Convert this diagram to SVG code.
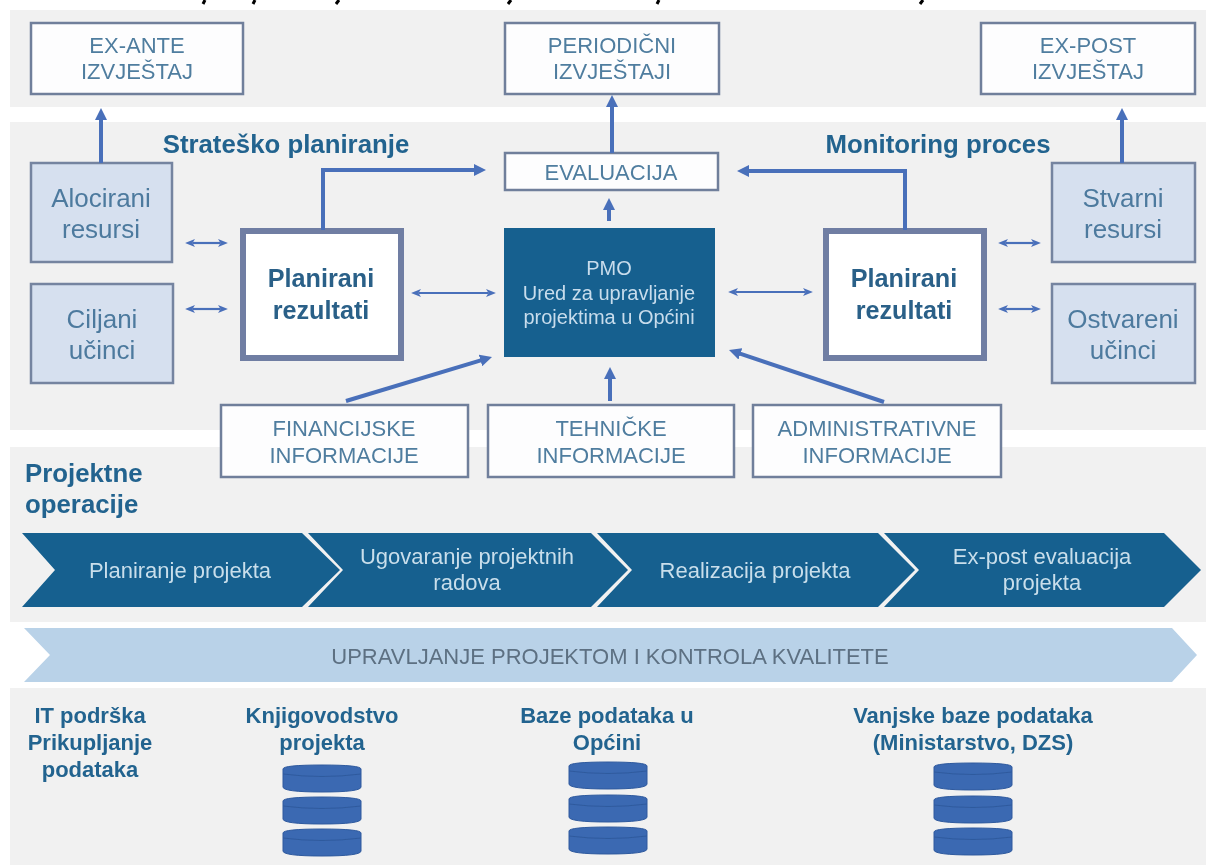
<svg xmlns="http://www.w3.org/2000/svg" width="1206" height="865" viewBox="0 0 1206 865">
<style>
text{font-family:"Liberation Sans",Arial,sans-serif;text-anchor:middle}
.box{fill:#fdfdfe;stroke:#707f9b;stroke-width:2.5}
.res{fill:#d6e0ef;stroke:#7484a0;stroke-width:2.5}
.plan{fill:#fff;stroke:#6f7ea3;stroke-width:6}
.lbl{font-size:22px;fill:#4f7d9f}
.res text{font-size:26px;fill:#4d7a9e}
.head{font-size:25.8px;font-weight:bold;fill:#23648f}
.pl{font-size:25.2px;font-weight:bold;fill:#2a6088}
.pmo{font-size:20px;fill:#c8dcec}
.chev{fill:#14608f}
.ct{font-size:22px;fill:#c9deeb}
.it{font-size:22px;font-weight:bold;fill:#23648f}
.db{fill:#3a69b2;stroke:#2f5a9e;stroke-width:1}
.dbt{fill:none;stroke:#2f5a9e;stroke-width:1}
.thick{fill:none;stroke:#4a6fba;stroke-width:4}
.thin{fill:none;stroke:#4a6fba;stroke-width:2.2}
.desc{fill:none;stroke:#000;stroke-width:3}
</style>
<defs>
<filter id="soft" x="0" y="0" width="100%" height="100%"><feGaussianBlur stdDeviation="0.6"/></filter>
<marker id="a" viewBox="0 0 12 12" refX="2" refY="6" markerWidth="3" markerHeight="3" orient="auto-start-reverse"><path d="M0 0L12 6L0 12z" fill="#4a6fba"/></marker>
<marker id="s" viewBox="0 0 10 8" refX="2.5" refY="4" markerWidth="4.5" markerHeight="3.6" orient="auto-start-reverse"><path d="M0 0L10 4L0 8L2.5 4z" fill="#4a6fba"/></marker>
<g id="dbs"><path class="db" d="M0 4Q0 0 39 0T78 4V22Q78 27 39 27T0 22z"/><path class="dbt" d="M0 9Q39 14 78 9"/></g>
</defs>

<rect width="1206" height="865" fill="#fff"/>
<g filter="url(#soft)">
<g id="bg" fill="#f1f1f1">
<rect x="10" y="10" width="1196" height="97"/>
<rect x="10" y="122" width="1196" height="308"/>
<rect x="10" y="447" width="1196" height="175"/>
<rect x="10" y="688" width="1196" height="177"/>
</g>
<g id="title-stubs">
<path class="desc" d="M205 0L203 4M255 0L253 4M339 0L336 4M511 0L508 4M659 0L657 4M923 0L920 4"/>
</g>

<g id="ex-ante"><rect class="box" x="31" y="23" width="212" height="71"/><text class="lbl" x="137" y="53">EX-ANTE</text><text class="lbl" x="137" y="79">IZVJEŠTAJ</text></g>
<g id="periodicni"><rect class="box" x="505" y="23" width="214" height="71"/><text class="lbl" x="612" y="53">PERIODIČNI</text><text class="lbl" x="612" y="79">IZVJEŠTAJI</text></g>
<g id="ex-post"><rect class="box" x="981" y="23" width="214" height="71"/><text class="lbl" x="1088" y="53">EX-POST</text><text class="lbl" x="1088" y="79">IZVJEŠTAJ</text></g>

<text class="head" x="286" y="153">Strateško planiranje</text>
<text class="head" x="938" y="153">Monitoring proces</text>

<g id="evaluacija"><rect class="box" x="505" y="153" width="213" height="37"/><text class="lbl" x="611" y="180">EVALUACIJA</text></g>

<g id="alocirani" class="res"><rect x="31" y="163" width="141" height="99"/><text x="101" y="207" stroke="none">Alocirani</text><text x="101" y="238" stroke="none">resursi</text></g>
<g id="ciljani" class="res"><rect x="31" y="284" width="142" height="99"/><text x="102" y="328" stroke="none">Ciljani</text><text x="102" y="359" stroke="none">učinci</text></g>
<g id="stvarni" class="res"><rect x="1052" y="163" width="143" height="99"/><text x="1123" y="207" stroke="none">Stvarni</text><text x="1123" y="238" stroke="none">resursi</text></g>
<g id="ostvareni" class="res"><rect x="1052" y="284" width="143" height="99"/><text x="1123" y="328" stroke="none">Ostvareni</text><text x="1123" y="359" stroke="none">učinci</text></g>

<g id="planirani-l"><rect class="plan" x="243" y="231" width="158" height="127"/><text class="pl" x="321" y="287">Planirani</text><text class="pl" x="321" y="319">rezultati</text></g>
<g id="planirani-r"><rect class="plan" x="826" y="231" width="158" height="127"/><text class="pl" x="904" y="287">Planirani</text><text class="pl" x="904" y="319">rezultati</text></g>

<g id="pmo"><rect x="504" y="228" width="211" height="129" fill="#14608f"/><text class="pmo" x="609" y="275">PMO</text><text class="pmo" x="609" y="300">Ured za upravljanje</text><text class="pmo" x="609" y="324">projektima u Općini</text></g>

<g id="financijske"><rect class="box" x="221" y="405" width="247" height="72"/><text class="lbl" x="344" y="436">FINANCIJSKE</text><text class="lbl" x="344" y="463">INFORMACIJE</text></g>
<g id="tehnicke"><rect class="box" x="488" y="405" width="246" height="72"/><text class="lbl" x="611" y="436">TEHNIČKE</text><text class="lbl" x="611" y="463">INFORMACIJE</text></g>
<g id="administrativne"><rect class="box" x="753" y="405" width="248" height="72"/><text class="lbl" x="877" y="436">ADMINISTRATIVNE</text><text class="lbl" x="877" y="463">INFORMACIJE</text></g>

<g id="connectors">
<path class="thick" marker-end="url(#a)" d="M101 163V118"/>
<path class="thick" marker-end="url(#a)" d="M612 153V105"/>
<path class="thick" marker-end="url(#a)" d="M1122 163V118"/>
<path class="thick" marker-end="url(#a)" d="M323 230V170H476"/>
<path class="thick" marker-end="url(#a)" d="M905 230V171H747"/>
<path class="thick" marker-end="url(#a)" d="M609 221V208"/>
<path class="thick" marker-end="url(#a)" d="M610 401V377"/>
<path class="thick" marker-end="url(#a)" d="M346 401L482.4 359.9"/>
<path class="thick" marker-end="url(#a)" d="M884 402L738.5 353.2"/>
<path class="thin" marker-start="url(#s)" marker-end="url(#s)" d="M192.5 243H220.5"/>
<path class="thin" marker-start="url(#s)" marker-end="url(#s)" d="M192.5 309H220.5"/>
<path class="thin" marker-start="url(#s)" marker-end="url(#s)" d="M418.5 293H488.5"/>
<path class="thin" marker-start="url(#s)" marker-end="url(#s)" d="M735.5 292H805.5"/>
<path class="thin" marker-start="url(#s)" marker-end="url(#s)" d="M1005.5 243H1033.5"/>
<path class="thin" marker-start="url(#s)" marker-end="url(#s)" d="M1005.5 309H1033.5"/>
</g>

<text class="head" x="25" y="482" style="text-anchor:start">Projektne</text>
<text class="head" x="25" y="513" style="text-anchor:start">operacije</text>

<g id="chevrons">
<g id="c1"><path class="chev" d="M22 533H302L340 570L302 607H22L55 570z"/><text class="ct" x="180" y="578">Planiranje projekta</text></g>
<g id="c2"><path class="chev" d="M308 533H591L628 570L591 607H308L343 570z"/><text class="ct" x="467" y="564">Ugovaranje projektnih</text><text class="ct" x="467" y="590">radova</text></g>
<g id="c3"><path class="chev" d="M597 533H878L915 570L878 607H597L632 570z"/><text class="ct" x="755" y="578">Realizacija projekta</text></g>
<g id="c4"><path class="chev" d="M884 533H1164L1201 570L1164 607H884L919 570z"/><text class="ct" x="1042" y="564">Ex-post evaluacija</text><text class="ct" x="1042" y="590">projekta</text></g>
</g>

<g id="upravljanje"><path d="M24 628H1172L1197 655L1172 682H24L50 655z" fill="#b9d2e8"/><text x="610" y="664" style="font-size:22px;fill:#5d7082">UPRAVLJANJE PROJEKTOM I KONTROLA KVALITETE</text></g>

<g id="it"><text class="it" x="90" y="723">IT podrška</text><text class="it" x="90" y="750">Prikupljanje</text><text class="it" x="90" y="777">podataka</text></g>
<g id="knjigovodstvo"><text class="it" x="322" y="723">Knjigovodstvo</text><text class="it" x="322" y="750">projekta</text><use href="#dbs" x="283" y="765"/><use href="#dbs" x="283" y="797"/><use href="#dbs" x="283" y="829"/></g>
<g id="baze"><text class="it" x="607" y="723">Baze podataka u</text><text class="it" x="607" y="750">Općini</text><use href="#dbs" x="569" y="762"/><use href="#dbs" x="569" y="795"/><use href="#dbs" x="569" y="827"/></g>
<g id="vanjske"><text class="it" x="973" y="723">Vanjske baze podataka</text><text class="it" x="973" y="750">(Ministarstvo, DZS)</text><use href="#dbs" x="934" y="763"/><use href="#dbs" x="934" y="796"/><use href="#dbs" x="934" y="828"/></g>
</g>
</svg>
